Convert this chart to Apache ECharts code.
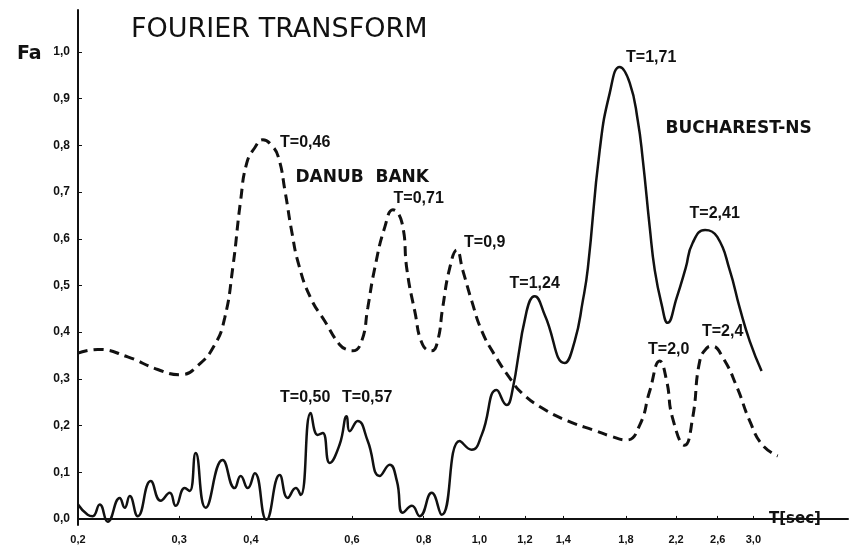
<!DOCTYPE html>
<html>
<head>
<meta charset="utf-8">
<script src="https://cdn.jsdelivr.net/npm/echarts@6/dist/echarts.min.js"></script>
<style>html,body{margin:0;padding:0;background:#fff}#c{width:849px;height:551px}</style>
</head>
<body>
<div id="c"></div>
<script>
// ---- data ----
const xTicks = [0.2, 0.3, 0.4, 0.6, 0.8, 1.0, 1.2, 1.4, 1.8, 2.2, 2.6, 3.0];
const yTicks = [0.0, 0.1, 0.2, 0.3, 0.4, 0.5, 0.6, 0.7, 0.8, 0.9, 1.0];

// DANUB BANK (dashed)
const danubT = [0.2000, 0.2165, 0.2441, 0.2753, 0.3019, 0.3232, 0.3460, 0.3601, 0.3719, 0.3840,
  0.3934, 0.4063, 0.4197, 0.4348, 0.4467, 0.4593, 0.4707, 0.4845, 0.5085, 0.5378,
  0.5712, 0.5897, 0.6017, 0.6238, 0.6391, 0.6573, 0.6843, 0.7070, 0.7332, 0.7480,
  0.7717, 0.7966, 0.8258, 0.8458, 0.8630, 0.8877, 0.9134, 0.9353, 0.9696, 1.0093,
  1.0633, 1.1378, 1.1846, 1.2838, 1.4244, 1.6006, 1.6863, 1.8055, 1.9019, 1.9797,
  2.0607, 2.1185, 2.1698, 2.2778, 2.3512, 2.4192, 2.4891, 2.5401, 2.6560, 2.8113,
  2.9561, 3.1122, 3.3085];
const danubFa = [0.355, 0.363, 0.347, 0.320, 0.309, 0.328, 0.373, 0.430, 0.537, 0.683,
  0.762, 0.795, 0.812, 0.800, 0.775, 0.698, 0.619, 0.545, 0.473, 0.424,
  0.373, 0.362, 0.360, 0.381, 0.452, 0.537, 0.625, 0.662, 0.634, 0.533,
  0.445, 0.373, 0.360, 0.381, 0.452, 0.537, 0.576, 0.533, 0.467, 0.403,
  0.351, 0.296, 0.270, 0.238, 0.210, 0.188, 0.178, 0.169, 0.201, 0.274,
  0.338, 0.296, 0.216, 0.158, 0.216, 0.338, 0.366, 0.370, 0.345, 0.281,
  0.210, 0.158, 0.135];

// BUCHAREST-NS (solid)
const buchT = [0.2000, 0.2079, 0.2121, 0.2182, 0.2253, 0.2364, 0.2412, 0.2461, 0.2541, 0.2677,
  0.2787, 0.2889, 0.2959, 0.3068, 0.3130, 0.3206, 0.3337, 0.3572, 0.3748, 0.3840,
  0.3950, 0.4063, 0.4257, 0.4490, 0.4637, 0.4789, 0.4885, 0.5085, 0.5229, 0.5336,
  0.5487, 0.5712, 0.5874, 0.5945, 0.6137, 0.6391, 0.6705, 0.6979, 0.7184, 0.7358,
  0.7630, 0.7871, 0.8258, 0.8598, 0.9240, 0.9696, 1.0093, 1.0718, 1.1158, 1.1378,
  1.2085, 1.2480, 1.2996, 1.4078, 1.4655, 1.5138, 1.5448, 1.6200, 1.6863, 1.7553,
  1.8271, 1.8867, 1.9256, 1.9797, 2.0200, 2.0777, 2.1273, 2.2047, 2.2864, 2.3512,
  2.4720, 2.5955, 2.7284, 2.8400, 2.9561, 3.1000];
const buchFa = [0.031, 0.009, 0.006, 0.031, -0.006, 0.045, 0.024, 0.049, 0.006, 0.081,
  0.039, 0.056, 0.028, 0.066, 0.060, 0.141, 0.024, 0.126, 0.066, 0.092,
  0.066, 0.098, -0.002, 0.094, 0.045, 0.066, 0.051, 0.227, 0.180, 0.184,
  0.120, 0.160, 0.220, 0.188, 0.210, 0.167, 0.092, 0.116, 0.081, 0.013,
  0.028, 0.006, 0.056, 0.009, 0.167, 0.148, 0.180, 0.276, 0.244, 0.266,
  0.445, 0.477, 0.437, 0.334, 0.381, 0.467, 0.537, 0.790, 0.912, 0.968,
  0.934, 0.854, 0.769, 0.625, 0.533, 0.458, 0.420, 0.473, 0.537, 0.591,
  0.619, 0.604, 0.533, 0.452, 0.381, 0.317];

// annotations: text, T, Fa (label centre)
const danubNotes = [
  ['T=0,46', 0.4973, 0.807],
  ['DANUB  BANK', 0.6251, 0.732],
  ['T=0,71', 0.7840, 0.687],
  ['T=0,9', 1.0215, 0.591],
  ['T=2,0', 2.1362, 0.362],
  ['T=2,4', 2.6525, 0.402]
];
const buchNotes = [
  ['T=0,50', 0.4973, 0.259],
  ['T=0,57', 0.6377, 0.259],
  ['T=1,24', 1.2482, 0.505],
  ['T=1,71', 1.9915, 0.987],
  ['BUCHAREST-NS', 2.8284, 0.837],
  ['T=2,41', 2.5689, 0.655]
];

const zip = (a, b) => a.map((v, i) => [v, b[i]]);
const fmt = v => Number(v).toFixed(1).replace('.', ',');
const noteData = arr => arr.map(n => {
  const big = n[0].indexOf('BANK') >= 0 || n[0].indexOf('NS') >= 0;
  return {
    coord: [n[1], n[2]],
    symbolSize: 0,
    label: {
      show: true, position: 'inside', formatter: n[0], color: '#111',
      fontFamily: big ? 'DejaVu Sans' : 'Liberation Sans',
      fontWeight: 'bold', fontSize: big ? 17 : 16
    }
  };
});

const chart = echarts.init(document.getElementById('c'), null, {renderer: 'canvas'});
chart.setOption({
  animation: false,
  backgroundColor: '#fff',
  title: [
    {text: 'FOURIER TRANSFORM', left: 126, top: 11,
     textStyle: {fontFamily: 'DejaVu Sans', fontWeight: 'normal', fontSize: 27, color: '#111'}},
    {text: 'Fa', left: 12, top: 40,
     textStyle: {fontFamily: 'DejaVu Sans', fontWeight: 'bold', fontSize: 19, color: '#111'}},
    {text: 'T[sec]', left: 764, top: 507,
     textStyle: {fontFamily: 'DejaVu Sans', fontWeight: 'bold', fontSize: 15, color: '#111'}}
  ],
  grid: {left: 78, right: 1, top: 10, bottom: 26},
  xAxis: {
    type: 'log', min: 0.2, max: 4.384,
    axisLine: {lineStyle: {color: '#111', width: 2}},
    axisTick: {show: true, inside: true, length: 3, customValues: xTicks, lineStyle: {color: '#111'}},
    minorTick: {show: false},
    splitLine: {show: false},
    axisLabel: {customValues: xTicks, formatter: fmt, margin: 9, color: '#111',
      fontFamily: 'Liberation Sans', fontWeight: 'bold', fontSize: 11}
  },
  yAxis: {
    type: 'value', min: -0.013, max: 1.09,
    axisLine: {show: true, lineStyle: {color: '#111', width: 2}},
    axisTick: {show: true, inside: true, length: 4, customValues: yTicks, lineStyle: {color: '#111'}},
    splitLine: {show: false},
    axisLabel: {customValues: yTicks, formatter: fmt, margin: 8, color: '#111',
      fontFamily: 'Liberation Sans', fontWeight: 'bold', fontSize: 12}
  },
  series: [
    {
      name: 'DANUB BANK', type: 'line', data: zip(danubT, danubFa),
      smooth: 0.5, showSymbol: false,
      lineStyle: {color: '#111', width: 3, type: [10, 6]},
      markPoint: {symbol: 'circle', symbolSize: 0, data: noteData(danubNotes)}
    },
    {
      name: 'BUCHAREST-NS', type: 'line', data: zip(buchT, buchFa),
      smooth: 0.5, showSymbol: false,
      lineStyle: {color: '#111', width: 2.5},
      markPoint: {symbol: 'circle', symbolSize: 0, data: noteData(buchNotes)}
    }
  ]
});
</script>
</body>
</html>
